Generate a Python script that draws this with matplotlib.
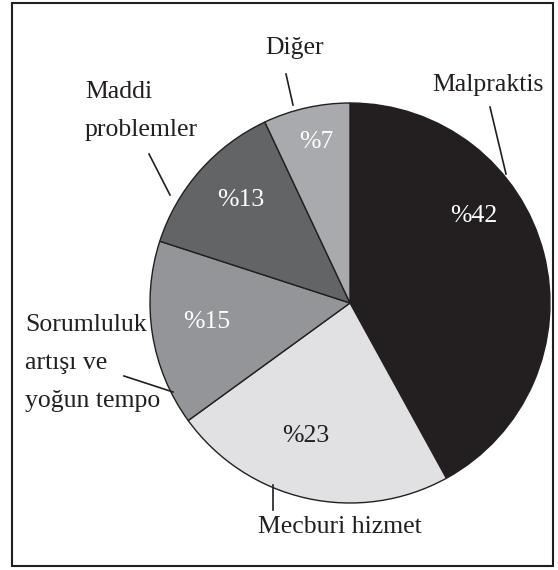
import matplotlib.pyplot as plt
from matplotlib.patches import Rectangle

labels = ['Malpraktis', 'Mecburi hizmet', 'Sorumluluk\nartışı ve\nyoğun tempo', 'Maddi\nproblemler', 'Diğer']
values = [42, 23, 15, 13, 7]
colors = ['#231f20', '#e1e1e3', '#939598', '#636466', '#a8aaad']
pct_colors = ['white', '#231f20', 'white', 'white', 'white']

# layout in pixels (from top-left): pie center and radius
CX, CY, R = 350, 303, 200
W, H = 558, 570

def px(x, y):
    return (x - CX) / R, (CY - y) / R

plt.rcParams['font.family'] = ['Liberation Serif', 'DejaVu Serif']

fig = plt.figure(figsize=(W / 100, H / 100), dpi=100)
ax = fig.add_axes([0, 0, 1, 1])

wedges, _ = ax.pie(values, colors=colors, startangle=90, counterclock=False,
                   radius=1, wedgeprops=dict(edgecolor='#231f20', linewidth=1.0))

ax.set_xlim(-CX / R, (W - CX) / R)
ax.set_ylim((CY - H) / R, CY / R)
ax.set_aspect('equal')
ax.axis('off')

# percentage labels inside
inner_pos = [(474, 216), (306, 436), (207, 322), (241, 200), (316, 142)]
for v, c, (x, y) in zip(values, pct_colors, inner_pos):
    ax.text(*px(x, y), '%' + str(v), color=c, fontsize=18.5,
            ha='center', va='center')

# outer labels: position, alignment, leader line
outer = [
    ((488, 85), 'center', ((490, 107), (506, 174))),
    ((340, 527), 'center', ((273, 510), (273, 485))),
    ((25, 363), 'left', ((124, 376), (173, 392))),
    ((85, 111), 'left', ((149, 154), (170, 195))),
    ((295, 48), 'center', ((286, 74), (293, 105))),
]
for lab, ((x, y), ha, (p1, p2)) in zip(labels, outer):
    ax.text(*px(x, y), lab, color='#231f20', fontsize=18.5, ha=ha, va='center',
            linespacing=1.92)
    a, b = px(*p1), px(*p2)
    ax.plot([a[0], b[0]], [a[1], b[1]], color='#231f20', lw=1.2)

fig.patches.append(Rectangle((12 / W, 1 - 566 / H), 541 / W, 563 / H,
                             transform=fig.transFigure, fill=False,
                             edgecolor='#231f20', linewidth=1.5))

fig.savefig('out.png', dpi=100, facecolor='white')
